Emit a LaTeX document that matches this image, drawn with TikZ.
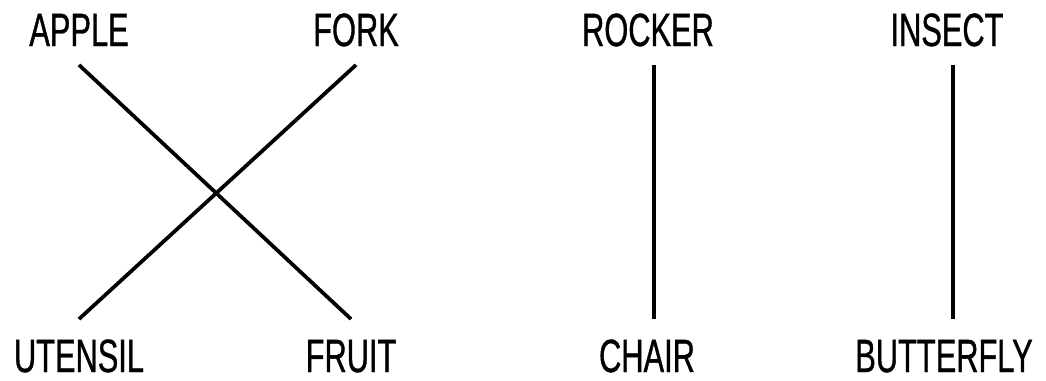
\documentclass[tikz,border=0pt]{standalone}
\usepackage{fontspec}
\setmainfont[FakeStretch=0.66, FakeBold=0.8]{Liberation Sans}
\usetikzlibrary{positioning}
\tikzset{
  word/.style={font=\fontsize{35}{40}\selectfont, text=black, inner xsep=0pt,
    inner ysep=14pt, text height=25.5pt, text depth=0pt},
  pairline/.style={draw=black, line width=2.8pt}
}
\begin{document}
\begin{tikzpicture}[x=0.75pt, y=0.75pt]
  \useasboundingbox (0,0) rectangle (1046,380);
  % crossed pairs
  \node[word] (apple)   at (79,351)  {APPLE};
  \node[word] (fork)    at (356,351) {FORK};
  \node[word] (utensil) at (79,25)   {UTENSIL};
  \node[word] (fruit)   at (351,25)  {FRUIT};
  \draw[pairline] (apple.south) -- (fruit.north);
  \draw[pairline] (fork.south) -- (utensil.north);
  % straight pairs
  \node[word] (rocker)    at (648,351) {ROCKER};
  \node[word] (chair)     at (647,25)  {CHAIR};
  \node[word] (insect)    at (947,351) {INSECT};
  \node[word] (butterfly) at (944,25)  {BUTTERFLY};
  \draw[pairline] ([xshift=4.5pt]rocker.south) -- ([xshift=4.5pt]rocker.south |- chair.north);
  \draw[pairline] ([xshift=4.5pt]insect.south) -- ([xshift=4.5pt]insect.south |- butterfly.north);
\end{tikzpicture}
\end{document}
